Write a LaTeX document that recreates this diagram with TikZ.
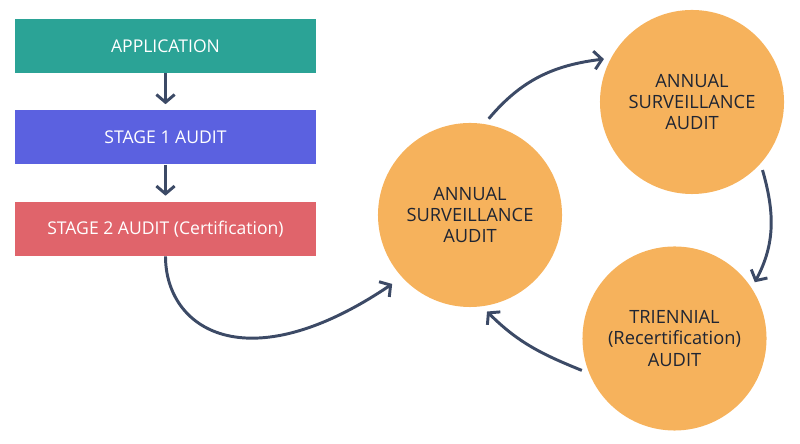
\documentclass[tikz,border=0pt]{standalone}
\usepackage{fontspec}
\setmainfont{Open Sans}
\usetikzlibrary{positioning, arrows.meta}
\definecolor{appteal}{HTML}{2BA396}
\definecolor{stageblue}{HTML}{5B61E0}
\definecolor{stagered}{HTML}{E0646B}
\definecolor{auditorange}{HTML}{F6B25C}
\definecolor{arrowink}{HTML}{3C4A66}
\definecolor{auditink}{HTML}{1F2533}
\tikzset{
  stagebox/.style={fill=#1, minimum width=7.525cm, minimum height=1.35cm,
    inner sep=0pt, text=white, font=\fontsize{12.5}{15}\selectfont},
  audit/.style={circle, fill=auditorange, minimum size=4.6cm, inner sep=0pt,
    outer sep=0.15cm, align=center, text=auditink,
    font=\fontsize{13}{15}\selectfont},
  flow/.style={draw=arrowink, line width=2.1pt,
    -{Straight Barb[length=5.5pt,width=13pt]}}
}
\begin{document}
\begin{tikzpicture}[x=0.025cm,y=0.025cm]
\useasboundingbox (0,0) rectangle (800,444);
% stages
\node[stagebox=appteal] at (165.5,398) (app) {APPLICATION};
\node[stagebox=stageblue] at (165.5,306.5) (st1) {STAGE 1 AUDIT};
\node[stagebox=stagered] at (165.5,215) (st2) {STAGE 2 AUDIT (Certification)};
% audit cycle
\node[audit] at (470,229) (survA) {ANNUAL\\SURVEILLANCE\\AUDIT};
\node[audit] at (692,342) (survB) {ANNUAL\\SURVEILLANCE\\AUDIT};
\node[audit] at (674.5,105.5) (trien) {TRIENNIAL\\(Recertification)\\AUDIT};
\draw (app) edge[flow, shorten >=0.15cm] (st1);
\draw (st1) edge[flow, shorten >=0.15cm] (st2);
\draw (st2.south) edge[flow, out=-90, in=214, out looseness=0.8, in looseness=2.0, shorten >=0.15cm] (survA.222);
\draw (survA.79) edge[flow, out=50, in=187] (survB.154);
\draw (survB.316) edge[flow, out=-74, in=62] (trien.35);
\draw (trien.199) edge[flow, out=158, in=-45] (survA.280);
\end{tikzpicture}
\end{document}
